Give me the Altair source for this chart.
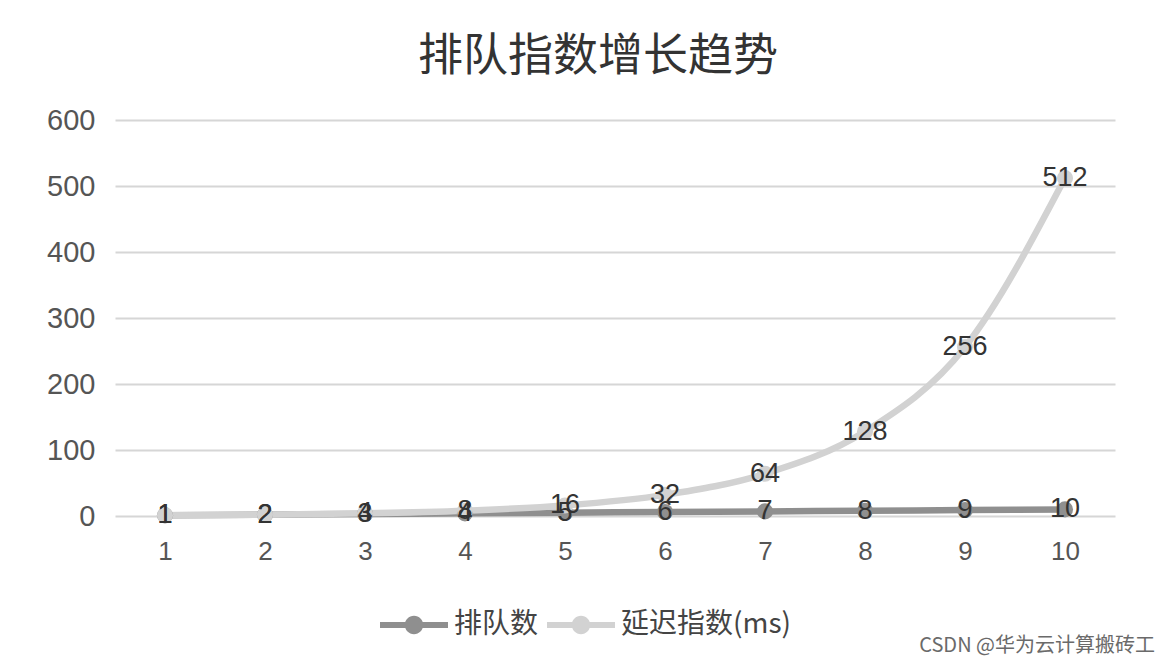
import altair as alt
import pandas as pd

categories = ["1", "2", "3", "4", "5", "6", "7", "8", "9", "10"]
queue_counts = [1, 2, 3, 4, 5, 6, 7, 8, 9, 10]
delay_index = [1, 2, 4, 8, 16, 32, 64, 128, 256, 512]
series_names = ["排队数", "延迟指数(ms)"]
series_colors = ["#8f8f8f", "#d2d2d2"]
title_text = "排队指数增长趋势"
watermark = "CSDN @华为云计算搬砖工"

rows = []
for i, (c, v) in enumerate(zip(categories, queue_counts)):
    rows.append({"x": c, "idx": i, "value": v, "series": series_names[0]})
for i, (c, v) in enumerate(zip(categories, delay_index)):
    rows.append({"x": c, "idx": i, "value": v, "series": series_names[1]})
df = pd.DataFrame(rows)

FONT = "Liberation Sans, Noto Sans CJK SC, sans-serif"
CJK = "Noto Sans CJK SC, sans-serif"

x_enc = alt.X("x:O", sort=categories, scale=alt.Scale(paddingOuter=0.5, paddingInner=0),
              axis=alt.Axis(title=None, labelAngle=0, labelFontSize=26, labelColor="#555555",
                            labelFont=FONT, ticks=False, domain=False, labelPadding=22,
                            grid=False))
y_enc = alt.Y("value:Q", scale=alt.Scale(domain=[0, 600]),
              axis=alt.Axis(title=None, values=[0, 100, 200, 300, 400, 500, 600],
                            labelFontSize=29, labelColor="#555555", labelFont=FONT,
                            ticks=False, domain=False, labelPadding=20,
                            gridColor="#d6d6d6", gridWidth=2))

legend_path = ("M-1,-0.09L1,-0.09L1,0.09L-1,0.09Z "
               "M0.27,0A0.27,0.27,0,1,1,-0.27,0A0.27,0.27,0,1,1,0.27,0Z")

color_enc = alt.Color("series:N", sort=series_names,
                      scale=alt.Scale(domain=series_names, range=series_colors),
                      legend=alt.Legend(title=None, orient="none", direction="horizontal",
                                        legendX=265, legendY=471,
                                        labelFontSize=28, labelFont=CJK, labelColor="#444444",
                                        labelLimit=400,
                                        symbolType=legend_path, symbolSize=4624,
                                        symbolStrokeWidth=0, labelOffset=6,
                                        columnPadding=8))

base = alt.Chart(df).encode(x=x_enc, y=y_enc, color=color_enc)

lines = base.mark_line(strokeWidth=6.5, interpolate="monotone").encode(
    order=alt.Order("idx:Q"))
points = base.mark_point(filled=True, size=260, opacity=1)
labels = alt.Chart(df).mark_text(fontSize=27, font=FONT, color="#333333").encode(
    x=alt.X("x:O", sort=categories), y=alt.Y("value:Q"), text=alt.Text("value:Q"))

wm = alt.Chart(pd.DataFrame({"t": [watermark]})).mark_text(
    fontSize=20, font=CJK, color="#6a6a6a", align="right", baseline="alphabetic"
).encode(text="t:N", x=alt.value(1040), y=alt.value(532))

chart = alt.layer(lines, points, labels, wm).properties(
    width=1000, height=396,
    title=alt.TitleParams(title_text, fontSize=45, font=CJK, color="#333333",
                          fontWeight="normal", anchor="middle", offset=26, dx=-17),
    autosize=alt.AutoSizeParams(type="none"),
    padding={"left": 107, "top": 112, "right": 45, "bottom": 141},
    background="white",
).configure_view(stroke=None)

chart.save("out.html", embed_options={"renderer": "svg", "actions": False})
